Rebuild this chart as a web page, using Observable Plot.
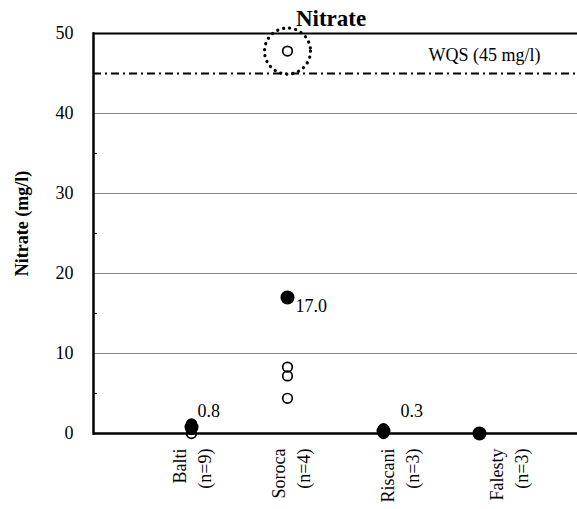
<!DOCTYPE html>
<html>
<head>
<meta charset="utf-8">
<script src="https://cdn.jsdelivr.net/npm/d3@7"></script>
<script src="https://cdn.jsdelivr.net/npm/@observablehq/plot@0.6"></script>
<style>
  html, body { margin: 0; padding: 0; background: #fff; }
  #wrap { width: 577px; height: 509px; overflow: hidden; position: relative; }
  #title { box-sizing: border-box; height: 30px; padding-top: 8px; padding-left: 85px;
           font: bold 23px/21px "Liberation Serif", "Times New Roman", serif; text-align: center; color: #000; }
</style>
</head>
<body>
<div id="wrap">
  <div id="title">Nitrate</div>
  <div id="chart"></div>
</div>
<script>
// ---- data ----
const sites = ["Balti", "Soroca", "Riscani", "Falesty"];
const counts = [9, 4, 3, 3];
const means = [0.8, 17.0, 0.3, 0.0];
const meanLabels = ["0.8", "17.0", "0.3", ""];
const baltiValues = [0, 0.5, 0.6, 0.8, 0.9, 1.0, 1.1, 1.1, 1.2];
const sorocaValues = [47.8, 8.3, 7.2, 4.4];
const riscaniValues = [0, 0.3, 0.6];
const falestyValues = [0, 0, 0];
const wqs = 45;
const wqsLabel = "WQS (45 mg/l)";
const yTicks = [0, 10, 20, 30, 40, 50];
const gridValues = [10, 20, 30, 40];
const minorTicks = [5, 15, 25, 35, 45];
const highlighted = [{site: "Soroca", value: 47.8}];

// ---- tables built from the arrays ----
const sampleArrays = [baltiValues, sorocaValues, riscaniValues, falestyValues];
const samples = sites.flatMap((s, i) => sampleArrays[i].map(v => ({site: s, value: v})));
const meanRows = sites.map((s, i) => ({site: s, value: means[i], label: meanLabels[i]}));
const catRows = sites.map((s, i) => ({site: s, label: `${s}\n(n=${counts[i]})`}));

const serif = '"Liberation Serif", "Times New Roman", serif';
// per-label screen nudges (styling only)
const catDx = {Balti: -1, Soroca: 2, Riscani: 15, Falesty: 28};
const meanLabelStyle = {
  Balti: {dx: 6, dy: -10},
  Soroca: {dx: 8, dy: 14},
  Riscani: {dx: 17, dy: -14}
};

const marks = [
  Plot.ruleY(gridValues, {stroke: "#8a8a8a", strokeWidth: 1}),
  Plot.axisY({ticks: minorTicks, tickSize: -4, tickFormat: () => "", stroke: "#000", strokeWidth: 1.2, label: null}),
  Plot.ruleY([wqs], {stroke: "#000", strokeWidth: 2.2, strokeDasharray: "8,4,2,4"}),
  Plot.text([{value: wqs, t: wqsLabel}], {y: "value", text: "t", frameAnchor: "right", textAnchor: "end",
    lineAnchor: "bottom", dx: -37, dy: -13, fontSize: 18, fontFamily: serif, fill: "#000"}),
  Plot.ruleY([50], {stroke: "#000", strokeWidth: 2}),
  Plot.ruleY([0], {stroke: "#000", strokeWidth: 2.5}),
  Plot.frame({anchor: "left", stroke: "#000", strokeWidth: 2.5}),
  Plot.axisY({ticks: yTicks, tickSize: 0, tickPadding: 20, fontSize: 18, fontFamily: serif, label: null}),
  Plot.text(["Nitrate (mg/l)"], {frameAnchor: "left", rotate: -90, textAnchor: "middle", lineAnchor: "middle",
    dx: -71, dy: -10, fontSize: 18, fontWeight: "bold", fontFamily: serif, fill: "#000"}),
  Plot.dot(samples, {x: "site", y: "value", r: 4.8, stroke: "#000", strokeWidth: 1.7, fill: "none"}),
  Plot.dot(meanRows, {x: "site", y: "value", r: 7, fill: "#000", stroke: "none"}),
  Plot.dot(highlighted, {x: "site", y: "value", r: 23, fill: "none", stroke: "#000", strokeWidth: 3.2,
    strokeDasharray: "0.1,6", strokeLinecap: "round"}),
  ...Object.entries(meanLabelStyle).map(([s, st]) =>
    Plot.text(meanRows.filter(d => d.site === s), {x: "site", y: "value", text: "label", textAnchor: "start",
      lineAnchor: "bottom", dx: st.dx, dy: st.dy, fontSize: 18, fontFamily: serif, fill: "#000"})),
  ...sites.map(s =>
    Plot.text(catRows.filter(d => d.site === s), {x: "site", text: "label", frameAnchor: "bottom", rotate: -90,
      textAnchor: "end", lineAnchor: "middle", lineHeight: 1.4, dx: catDx[s], dy: 15, fontSize: 18,
      fontFamily: serif, fill: "#000"}))
];

const chart = Plot.plot({
  width: 577,
  height: 479,
  marginTop: 3,
  marginBottom: 76,
  marginLeft: 93,
  marginRight: 0,
  style: {fontFamily: serif, color: "#000", background: "#fff", overflow: "visible"},
  x: {type: "point", domain: sites, padding: 1, axis: null},
  y: {domain: [0, 50], axis: null},
  marks
});
document.getElementById("chart").appendChild(chart);
</script>
</body>
</html>
